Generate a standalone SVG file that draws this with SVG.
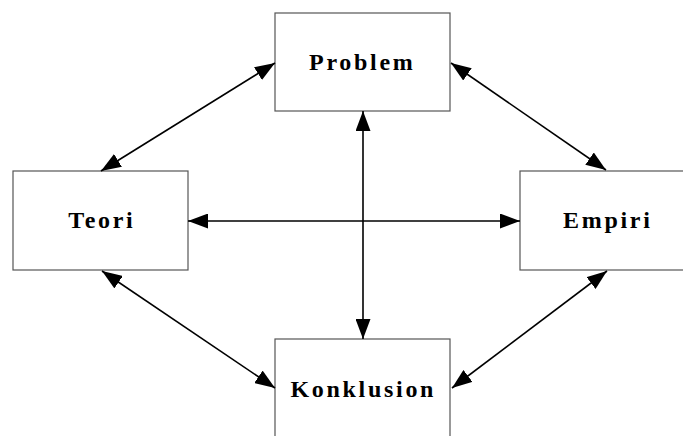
<svg xmlns="http://www.w3.org/2000/svg" width="683" height="436" viewBox="0 0 683 436">
<style>
.box{fill:#fff;stroke:#555;stroke-width:1.2}
.lbl{font-family:"Liberation Serif","Times New Roman",serif;font-weight:bold;font-size:24px;letter-spacing:2.7px;fill:#000;text-anchor:middle}
.con{stroke:#000;stroke-width:1.6;fill:none;marker-start:url(#ah);marker-end:url(#ah)}
</style>
<defs>
<marker id="ah" viewBox="0 0 20 15" refX="20" refY="7.5" markerWidth="20" markerHeight="15" markerUnits="userSpaceOnUse" orient="auto-start-reverse">
<path d="M0,0 L20,7.5 L0,15 z" fill="#000"/>
</marker>
</defs>
<rect width="683" height="436" fill="#fff"/>
<g id="n-problem"><rect class="box" x="275" y="13" width="175" height="98"/><text class="lbl" x="362.3" y="70">Problem</text></g>
<g id="n-teori"><rect class="box" x="13" y="171" width="175" height="99"/><text class="lbl" x="101.8" y="228">Teori</text></g>
<g id="n-empiri"><rect class="box" x="520" y="171" width="175" height="99"/><text class="lbl" x="607.8" y="228">Empiri</text></g>
<g id="n-konklusion"><rect class="box" x="275" y="339" width="175" height="110"/><text class="lbl" x="363.3" y="397">Konklusion</text></g>
<g id="connectors">
<line class="con" x1="275" y1="63" x2="101" y2="171"/>
<line class="con" x1="451" y1="63" x2="606" y2="170"/>
<line class="con" x1="102" y1="271" x2="275" y2="388"/>
<line class="con" x1="452" y1="388" x2="607" y2="271"/>
<line class="con" x1="363" y1="111" x2="363" y2="339"/>
<line class="con" x1="188" y1="221" x2="520" y2="221"/>
</g>
</svg>
